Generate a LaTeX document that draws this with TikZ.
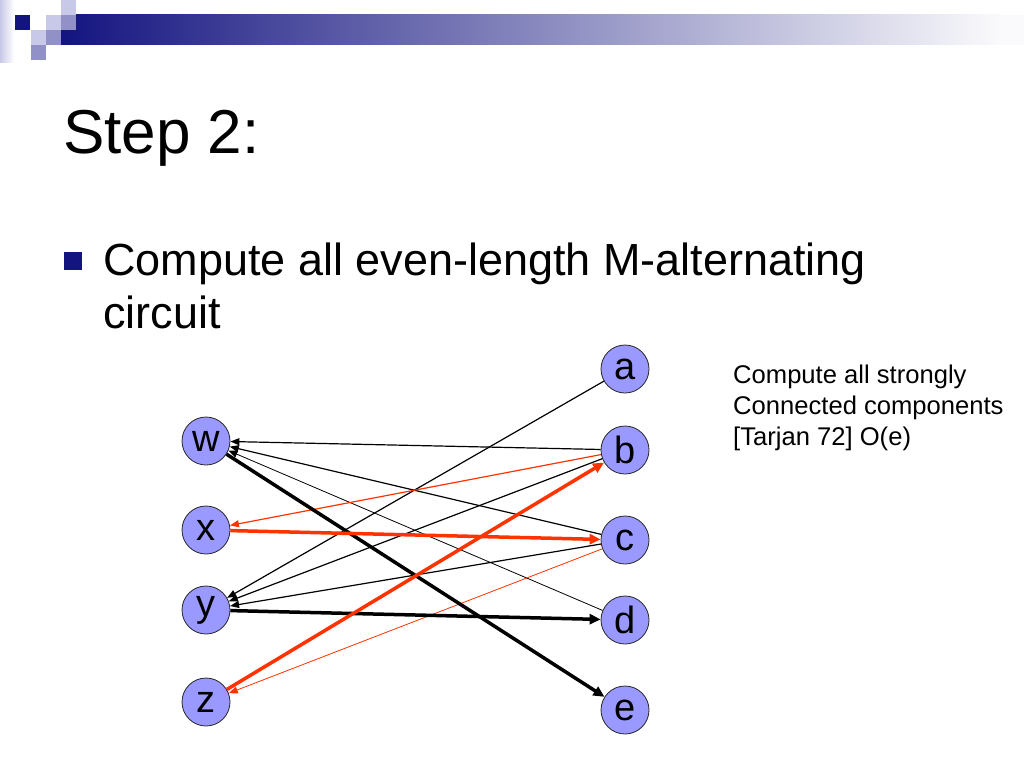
\documentclass[tikz,border=0pt]{standalone}
\usepackage{fontspec}
\setmainfont{Liberation Sans}
\usetikzlibrary{arrows.meta}
\definecolor{navy}{RGB}{20,20,128}
\definecolor{sqlight}{RGB}{200,200,232}
\definecolor{sqmed}{RGB}{145,145,200}
\definecolor{nodefill}{RGB}{153,153,255}
\definecolor{redline}{RGB}{255,51,0}
\definecolor{barend}{RGB}{250,250,252}
\begin{document}
\begin{tikzpicture}[x=1pt,y=-1pt,
  vertex/.style={circle, draw=black!85, line width=0.8pt, fill=nodefill, minimum size=48pt, inner sep=0pt, font=\fontsize{38}{38}\selectfont},
  thinedge/.style={line width=1.2pt, -{Triangle[length=9pt,width=7pt]}},
  thinneredge/.style={line width=0.8pt, -{Triangle[length=9pt,width=7pt]}},
  thickedge/.style={line width=3.5pt, -{Triangle[length=11pt,width=10pt]}},
  redc/.style={draw=redline, color=redline},
  titletext/.style={anchor=base west, inner sep=0pt, font=\fontsize{62}{62}\selectfont},
  bodytext/.style={anchor=base west, inner sep=0pt, font=\fontsize{45}{54}\selectfont},
  sidetext/.style={anchor=base west, inner sep=0pt, font=\fontsize{25.6}{31}\selectfont}
]
\useasboundingbox (0,0) rectangle (1024,768);
\fill[white] (0,0) rectangle (1024,768);
% header decoration
\shade[left color=sqlight, right color=white] (0,0) rectangle (14,62);
\shade[left color=navy, right color=barend] (61,15) rectangle (1000,45);
\fill[barend] (1000,15) rectangle (1024,45);
\fill[navy] (15,15) rectangle (30,30);
\fill[sqlight] (46,15) rectangle (61,30);
\fill[sqmed] (61,15) rectangle (76,30);
\fill[sqlight] (61,0) rectangle (76,15);
\fill[sqlight] (31,30) rectangle (46,45);
\fill[sqmed] (46,30) rectangle (61,45);
\fill[sqmed] (31,45) rectangle (46,60);
% texts
\node[titletext] (title) at (63,153) {Step 2:};
\fill[navy] (64,252) rectangle (82,270);
\node[bodytext] (body1) at (103,275) {Compute all even-length M-alternating};
\node[bodytext] (body2) at (103,328) {circuit};
\node[sidetext] (side1) at (733,383) {Compute all strongly};
\node[sidetext] (side2) at (733,414) {Connected components};
\node[sidetext] (side3) at (733,445) {[Tarjan 72] O(e)};
% vertices
\node[vertex] (w) at (206,441) {w};
\node[vertex] (x) at (206,530) {x};
\node[vertex] (y) at (206,610) {y};
\node[vertex] (z) at (206,702) {z};
\node[vertex] (a) at (625,369) {a};
\node[vertex] (b) at (625,450) {b};
\node[vertex] (c) at (625,540) {c};
\node[vertex] (d) at (625,620) {d};
\node[vertex] (e) at (625,710) {e};
% non-matching edges (right to left)
\draw[thinedge] (a) -- (y);
\draw[thinedge] (b) -- (w);
\draw[thinedge] (b) -- (y);
\draw[thinedge] (c) -- (w);
\draw[thinedge] (c) -- (y);
\draw[thinneredge] (d) -- (w);
\draw[thinedge, redc] (b) -- (x);
\draw[thinneredge, redc] (c) -- (z);
% matching edges (left to right)
\draw[thickedge] (w) -- (e);
\draw[thickedge, redc] (x) -- (c);
\draw[thickedge] (y) -- (d);
\draw[thickedge, redc] (z) -- (b);
\end{tikzpicture}
\end{document}
